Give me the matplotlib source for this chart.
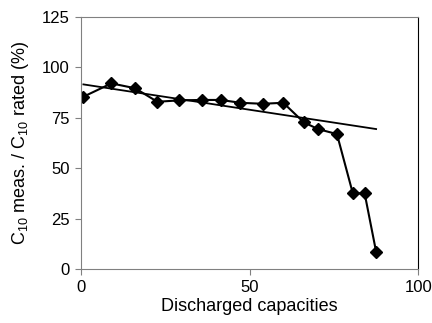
import matplotlib
matplotlib.use('Agg')
import matplotlib.pyplot as plt

plt.rcParams['font.family'] = ['Liberation Sans', 'DejaVu Sans']
plt.rcParams['mathtext.fontset'] = 'custom'
plt.rcParams['mathtext.rm'] = 'Liberation Sans'
plt.rcParams['mathtext.it'] = 'Liberation Sans'
plt.rcParams['mathtext.bf'] = 'Liberation Sans'
plt.rcParams['mathtext.default'] = 'regular'

# measured points
cycles = [0.8, 9.1, 16.1, 22.7, 29.2, 35.8, 41.5, 47.3, 53.9, 60.0,
          66.1, 70.3, 75.9, 80.6, 84.1, 87.5]
capacity = [85.4, 92.0, 89.6, 82.9, 83.6, 83.8, 83.8, 82.4, 81.9, 82.4,
            72.7, 69.4, 66.9, 37.6, 37.6, 8.7]

# trend line end points
trend_x = [0.8, 87.5]
trend_y = [91.5, 69.4]

fig = plt.figure(figsize=(4.32, 3.23), dpi=100)
ax = fig.add_axes([0.1868, 0.1663, 0.7815, 0.782])

ax.plot(trend_x, trend_y, color='black', lw=1.3)
ax.plot(cycles, capacity, color='black', lw=1.5, marker='D', markersize=6.5)

ax.set_xlim(0, 100)
ax.set_ylim(0, 125)
ax.set_xticks([0, 50, 100])
ax.set_yticks([0, 25, 50, 75, 100, 125])
ax.tick_params(labelsize=12, length=4, width=0.8, color='#808080', pad=4)

for side in ['left', 'bottom', 'top']:
    ax.spines[side].set_color('#808080')
ax.spines['right'].set_color('black')

ax.set_xlabel('Discharged capacities', fontsize=13, labelpad=2)
ax.set_ylabel(r'C$_{10}$ meas. / C$_{10}$ rated (%)', fontsize=13, labelpad=8)

plt.savefig('out.png', dpi=100)
